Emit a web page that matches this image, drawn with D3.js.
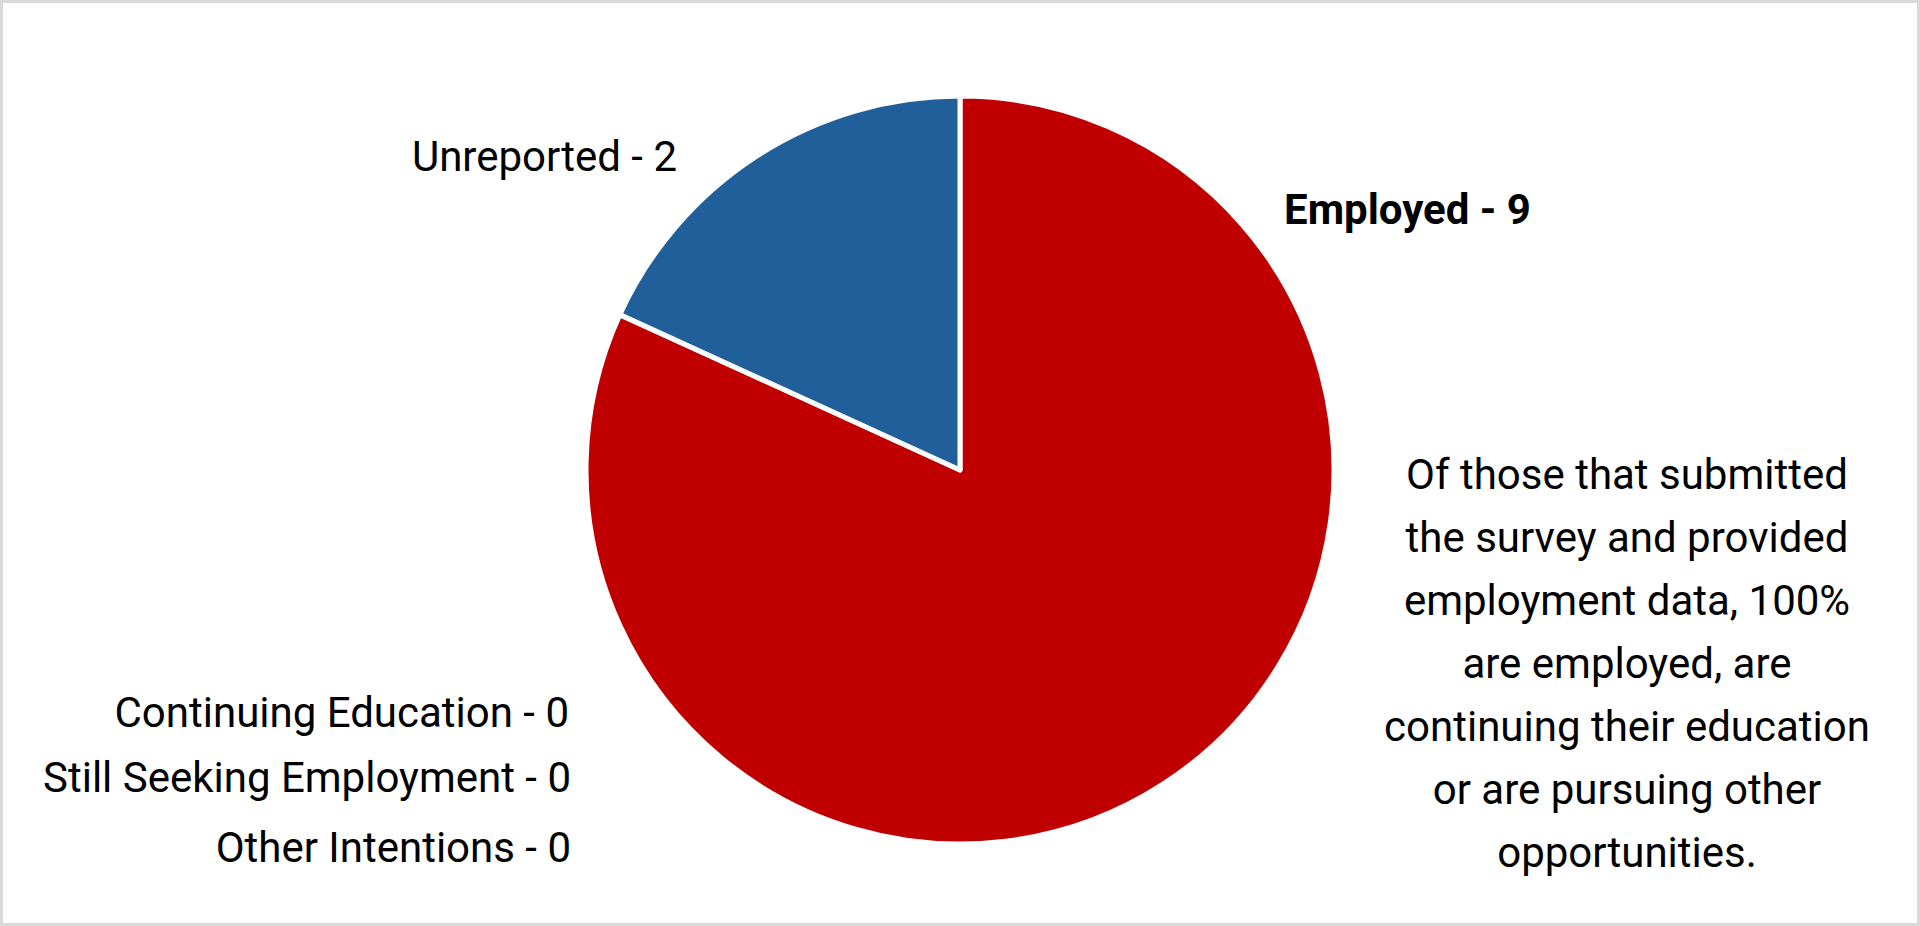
<!DOCTYPE html>
<html>
<head>
<meta charset="utf-8">
<script src="https://cdn.jsdelivr.net/npm/d3@7"></script>
<style>
    html, body { margin: 0; padding: 0; background: #ffffff; }
    svg { display: block; }
    .label { font-family: Roboto, "Noto Sans", sans-serif; fill: #000000; }
</style>
</head>
<body>
<svg id="chart"></svg>
<script>
    var categories = ["Employed", "Unreported", "Continuing Education", "Still Seeking Employment", "Other Intentions"];
    var counts = [9, 2, 0, 0, 0];
    var sliceColors = ["#C00000", "#215F9A", "#A5A5A5", "#FFC000", "#5B9BD5"];
    var noteLines = [
        "Of those that submitted",
        "the survey and provided",
        "employment data, 100%",
        "are employed, are",
        "continuing their education",
        "or are pursuing other",
        "opportunities."
    ];

    var W = 1920, H = 926;
    var cx = 960, cy = 470, radius = 374;
    var fontSize = 42;

    var svg = d3.select("#chart")
        .attr("width", W)
        .attr("height", H)
        .attr("viewBox", "0 0 " + W + " " + H);

    // frame round the whole chart area
    svg.append("rect")
        .attr("x", 1.5).attr("y", 1.5)
        .attr("width", W - 3).attr("height", H - 3)
        .attr("fill", "#ffffff")
        .attr("stroke", "#d9d9d9")
        .attr("stroke-width", 3);

    var rows = categories.map(function(name, i) {
        return { name: name, value: counts[i], color: sliceColors[i] };
    });

    var pie = d3.pie().sort(null).value(function(d) { return d.value; });
    var arc = d3.arc().innerRadius(0).outerRadius(radius);

    var pieLayer = svg.append("g").attr("transform", "translate(" + cx + "," + cy + ")");
    pieLayer.selectAll("path.slice")
        .data(pie(rows).filter(function(d) { return d.data.value > 0; }))
        .enter()
        .append("path")
        .attr("class", "slice")
        .attr("d", arc)
        .attr("fill", function(d) { return d.data.color; })
        .attr("stroke", "#ffffff")
        .attr("stroke-width", 5)
        .attr("stroke-linejoin", "round");

    // label placement (Excel put these by hand)
    var labelPos = {
        "Employed": { x: 1284, y: 224, anchor: "start", bold: true },
        "Unreported": { x: 677, y: 171, anchor: "end", bold: false },
        "Continuing Education": { x: 569, y: 727, anchor: "end", bold: false },
        "Still Seeking Employment": { x: 571, y: 792, anchor: "end", bold: false },
        "Other Intentions": { x: 571, y: 862, anchor: "end", bold: false }
    };

    svg.selectAll("text.slice-label")
        .data(rows)
        .enter()
        .append("text")
        .attr("class", "label slice-label")
        .attr("x", function(d) { return labelPos[d.name].x; })
        .attr("y", function(d) { return labelPos[d.name].y; })
        .attr("text-anchor", function(d) { return labelPos[d.name].anchor; })
        .attr("font-weight", function(d) { return labelPos[d.name].bold ? 700 : 400; })
        .attr("font-size", fontSize)
        .text(function(d) { return d.name + " - " + d.value; });

    var note = svg.append("text")
        .attr("class", "label note")
        .attr("text-anchor", "middle")
        .attr("font-size", fontSize);

    note.selectAll("tspan")
        .data(noteLines)
        .enter()
        .append("tspan")
        .attr("x", 1627)
        .attr("y", function(d, i) { return 489 + i * 63; })
        .text(function(d) { return d; });
</script>
</body>
</html>
